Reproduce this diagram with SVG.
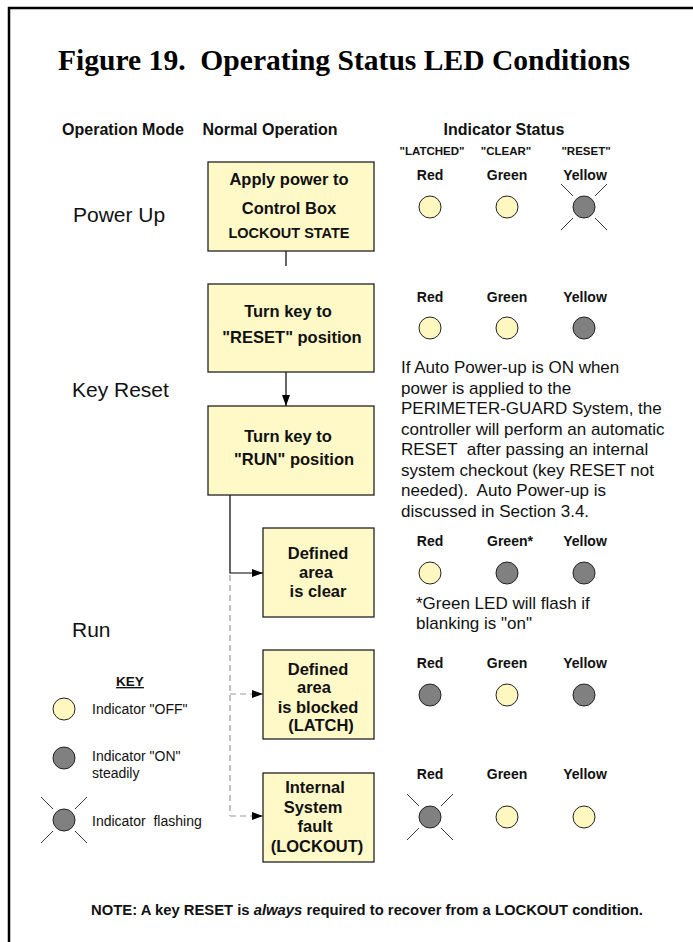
<svg xmlns="http://www.w3.org/2000/svg" xmlns:xlink="http://www.w3.org/1999/xlink" width="693" height="942" viewBox="0 0 693 942">
<style>
.title{font-family:"Liberation Serif","Times New Roman",serif;font-weight:bold;font-size:29.5px;fill:#000;white-space:pre}
.hdr{font-family:"Liberation Sans",Arial,sans-serif;font-weight:bold;font-size:16px;fill:#111;text-anchor:middle}
.lbl{font-family:"Liberation Sans",Arial,sans-serif;font-weight:bold;font-size:14px;fill:#111;text-anchor:middle}
.sm{font-family:"Liberation Sans",Arial,sans-serif;font-weight:bold;font-size:11.5px;fill:#111;text-anchor:middle}
.mode{font-family:"Liberation Sans",Arial,sans-serif;font-size:21px;fill:#111}
.para{font-family:"Liberation Sans",Arial,sans-serif;font-size:17px;fill:#111;white-space:pre}
.keyt{font-family:"Liberation Sans",Arial,sans-serif;font-size:14px;fill:#111;white-space:pre}
.bt{font-family:"Liberation Sans",Arial,sans-serif;font-weight:bold;font-size:16.5px;fill:#111;text-anchor:middle}
.box{fill:#FFF9C8;stroke:#222;stroke-width:1.3}
.off{fill:#FFF7C0;stroke:#222;stroke-width:1}
.on{fill:#808080;stroke:#222;stroke-width:1}
.fl{stroke:#222;stroke-width:0.9}
.c{stroke:#000;stroke-width:1.2;fill:none}
.d{stroke:#999;stroke-width:1.2;fill:none;stroke-dasharray:6 4}
</style>
<defs>
<marker id="ah" markerUnits="userSpaceOnUse" markerWidth="11" markerHeight="8" refX="11" refY="4" orient="auto">
<path d="M0,0 L11,4 L0,8 z" fill="#000"/>
</marker>
<g id="flash">
<line class="fl" x1="-23" y1="-23" x2="-11" y2="-11"/>
<line class="fl" x1="23" y1="-23" x2="11" y2="-11"/>
<line class="fl" x1="-23" y1="23" x2="-11" y2="11"/>
<line class="fl" x1="23" y1="23" x2="11" y2="11"/>
</g>
</defs>
<rect width="693" height="942" fill="#fff"/>
<path d="M9,942 V8 H693" fill="none" stroke="#000" stroke-width="2.5"/>

<text class="title" x="58" y="70" xml:space="preserve" textLength="572" lengthAdjust="spacingAndGlyphs">Figure 19.  Operating Status LED Conditions</text>
<text class="hdr" x="123" y="135">Operation Mode</text>
<text class="hdr" x="270" y="135">Normal Operation</text>
<text class="hdr" x="504" y="135">Indicator Status</text>

<text class="mode" x="73" y="222">Power Up</text>
<text class="mode" x="72" y="397">Key Reset</text>
<text class="mode" x="72" y="637">Run</text>

<g id="connectors">
<line class="c" x1="286" y1="251" x2="286" y2="266"/>
<line class="c" x1="286" y1="372" x2="286" y2="406" marker-end="url(#ah)"/>
<polyline class="c" points="230,495 230,573 263,573" marker-end="url(#ah)"/>
<line class="d" x1="230" y1="575" x2="230" y2="816"/>
<line class="d" x1="230" y1="694" x2="263" y2="694" marker-end="url(#ah)"/>
<line class="d" x1="230" y1="816" x2="263" y2="816" marker-end="url(#ah)"/>
</g>

<g id="box1">
<rect class="box" x="208" y="162" width="166" height="89"/>
<text class="bt" x="289" y="185">Apply power to</text>
<text class="bt" x="289" y="214">Control Box</text>
<text class="bt" x="289" y="238" style="font-size:14.5px">LOCKOUT STATE</text>
</g>
<g id="box2">
<rect class="box" x="208" y="284" width="166" height="88"/>
<text class="bt" x="288" y="317">Turn key to</text>
<text class="bt" x="292" y="343">"RESET" position</text>
</g>
<g id="box3">
<rect class="box" x="208" y="406" width="166" height="89"/>
<text class="bt" x="288" y="442">Turn key to</text>
<text class="bt" x="294" y="465">"RUN" position</text>
</g>
<g id="box4">
<rect class="box" x="263" y="528" width="111" height="89"/>
<text class="bt" x="318" y="559">Defined</text>
<text class="bt" x="316" y="578">area</text>
<text class="bt" x="318" y="597">is clear</text>
</g>
<g id="box5">
<rect class="box" x="263" y="650" width="111" height="89"/>
<text class="bt" x="318" y="675">Defined</text>
<text class="bt" x="314" y="693">area</text>
<text class="bt" x="318" y="713">is blocked</text>
<text class="bt" x="321" y="731">(LATCH)</text>
</g>
<g id="box6">
<rect class="box" x="263" y="773" width="111" height="89"/>
<text class="bt" x="315" y="793">Internal</text>
<text class="bt" x="313" y="813">System</text>
<text class="bt" x="315" y="832">fault</text>
<text class="bt" x="317" y="852">(LOCKOUT)</text>
</g>

<g id="status-row1">
<text class="sm" x="432" y="155">"LATCHED"</text>
<text class="sm" x="506" y="155">"CLEAR"</text>
<text class="sm" x="586" y="155">"RESET"</text>
<text class="lbl" x="430" y="180">Red</text>
<text class="lbl" x="507" y="180">Green</text>
<text class="lbl" x="585" y="180">Yellow</text>
<circle class="off" cx="430" cy="207" r="11"/>
<circle class="off" cx="507" cy="207" r="11"/>
<circle class="on" cx="584" cy="207" r="11"/>
<use xlink:href="#flash" href="#flash" x="584" y="207"/>
</g>
<g id="status-row2">
<text class="lbl" x="430" y="302">Red</text>
<text class="lbl" x="507" y="302">Green</text>
<text class="lbl" x="585" y="302">Yellow</text>
<circle class="off" cx="430" cy="328" r="11"/>
<circle class="off" cx="507" cy="328" r="11"/>
<circle class="on" cx="584" cy="328" r="11"/>
</g>
<g id="autopower-note">
<text class="para" x="401" y="373">If Auto Power-up is ON when</text>
<text class="para" x="401" y="394">power is applied to the</text>
<text class="para" x="401" y="414">PERIMETER-GUARD System, the</text>
<text class="para" x="401" y="435">controller will perform an automatic</text>
<text class="para" x="401" y="455" xml:space="preserve">RESET  after passing an internal</text>
<text class="para" x="401" y="476">system checkout (key RESET not</text>
<text class="para" x="401" y="496" xml:space="preserve">needed).  Auto Power-up is</text>
<text class="para" x="401" y="517">discussed in Section 3.4.</text>
</g>
<g id="status-row3">
<text class="lbl" x="430" y="546">Red</text>
<text class="lbl" x="510" y="546">Green*</text>
<text class="lbl" x="585" y="546">Yellow</text>
<circle class="off" cx="430" cy="573" r="11"/>
<circle class="on" cx="507" cy="573" r="11"/>
<circle class="on" cx="584" cy="573" r="11"/>
<text class="para" x="416" y="609">*Green LED will flash if</text>
<text class="para" x="416" y="629">blanking is "on"</text>
</g>
<g id="status-row4">
<text class="lbl" x="430" y="668">Red</text>
<text class="lbl" x="507" y="668">Green</text>
<text class="lbl" x="585" y="668">Yellow</text>
<circle class="on" cx="430" cy="695" r="11"/>
<circle class="off" cx="507" cy="695" r="11"/>
<circle class="on" cx="584" cy="695" r="11"/>
</g>
<g id="status-row5">
<text class="lbl" x="430" y="779">Red</text>
<text class="lbl" x="507" y="779">Green</text>
<text class="lbl" x="585" y="779">Yellow</text>
<circle class="on" cx="430" cy="817" r="11"/>
<use xlink:href="#flash" href="#flash" x="430" y="817"/>
<circle class="off" cx="507" cy="817" r="11"/>
<circle class="off" cx="584" cy="817" r="11"/>
</g>

<g id="key">
<text class="lbl" x="130" y="686" style="font-size:13.5px;text-decoration:underline">KEY</text>
<circle class="off" cx="64" cy="709" r="11"/>
<text class="keyt" x="92" y="714">Indicator "OFF"</text>
<circle class="on" cx="64" cy="758" r="11"/>
<text class="keyt" x="92" y="761">Indicator "ON"</text>
<text class="keyt" x="92" y="778">steadily</text>
<circle class="on" cx="64" cy="820" r="11"/>
<use xlink:href="#flash" href="#flash" x="64" y="820"/>
<text class="keyt" x="92" y="826" xml:space="preserve">Indicator  flashing</text>
</g>

<text x="367" y="915" text-anchor="middle" font-family="'Liberation Sans',Arial,sans-serif" font-weight="bold" font-size="14" fill="#111" textLength="552" lengthAdjust="spacingAndGlyphs">NOTE: A key RESET is <tspan font-style="italic">always</tspan> required to recover from a LOCKOUT condition.</text>
</svg>
